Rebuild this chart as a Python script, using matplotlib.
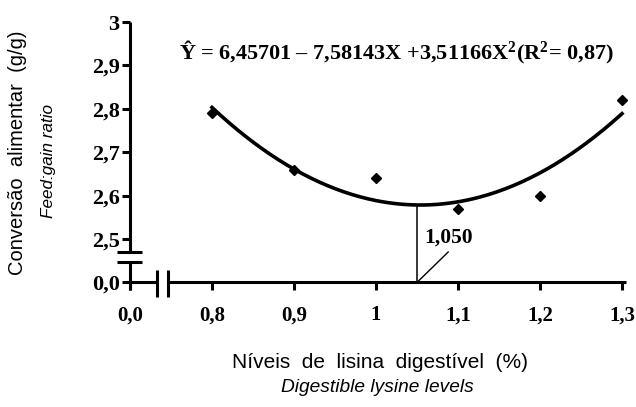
import numpy as np
import matplotlib
matplotlib.use("Agg")
import matplotlib.pyplot as plt

plt.rcParams['mathtext.fontset'] = 'custom'
plt.rcParams['mathtext.rm'] = 'Liberation Serif:bold'
plt.rcParams['mathtext.bf'] = 'Liberation Serif:bold'
plt.rcParams['mathtext.it'] = 'Liberation Serif:bold'

# dados
lisina = [0.8, 0.9, 1.0, 1.1, 1.2, 1.3]
conversao = [2.79, 2.66, 2.64, 2.57, 2.60, 2.82]
x_ticks = [0.7, 0.8, 0.9, 1.0, 1.1, 1.2, 1.3]
x_labels = ["0,0", "0,8", "0,9", "1", "1,1", "1,2", "1,3"]
y_ticks = [2.40, 2.5, 2.6, 2.7, 2.8, 2.9, 3.0]
y_labels = ["0,0", "2,5", "2,6", "2,7", "2,8", "2,9", "3"]
x_otimo = 1.05
y_zero = 2.40   # posicao do "0,0" no eixo y quebrado
x_zero = 0.7    # posicao do "0,0" no eixo x quebrado

fig = plt.figure(figsize=(6.36, 4.07), dpi=100)
ax = fig.add_axes([0.2044, 0.3061, 0.7865, 0.6504])
ax.set_xlim(x_zero, 1.31)
ax.set_ylim(y_zero, 3.01)

for s in ax.spines.values():
    s.set_visible(False)

# eixos com quebra
k = dict(color="black", lw=2.2, clip_on=False, solid_capstyle="butt")
ax.plot([x_zero, x_zero], [y_zero - 0.018, 2.447], **k)
ax.plot([x_zero, x_zero], [2.470, 3.0], **k)
ax.plot([x_zero - 0.0155, x_zero + 0.015], [2.447, 2.447], **k)
ax.plot([x_zero - 0.0155, x_zero + 0.015], [2.470, 2.470], **k)
ax.plot([x_zero, 0.733], [y_zero, y_zero], **k)
ax.plot([0.746, 1.305], [y_zero, y_zero], **k)
ax.plot([0.733, 0.733], [2.3654, 2.4276], **k)
ax.plot([0.746, 0.746], [2.3654, 2.4276], **k)

ax.set_xticks(x_ticks)
ax.set_xticklabels(x_labels)
ax.set_yticks(y_ticks)
ax.set_yticklabels(y_labels)
ax.tick_params(axis="x", length=5.5, width=2.2, pad=11, labelsize=15)
ax.tick_params(axis="y", length=5.5, width=2.2, pad=2, labelsize=16)
for t in ax.get_xticklabels() + ax.get_yticklabels():
    t.set_fontfamily("Liberation Serif")
    t.set_fontweight("bold")

# curva ajustada (quadratica)
coef = np.polyfit(lisina, conversao, 2)
xs = np.linspace(min(lisina), max(lisina), 200)
ax.plot(xs, np.polyval(coef, xs), color="black", lw=2.6)
ax.plot(lisina, conversao, "D", color="black", markersize=5.5)

y_min = np.polyval(coef, x_otimo)
ax.plot([x_otimo, x_otimo], [y_zero, y_min], color="black", lw=1.1)
ax.plot([x_otimo, 1.088], [y_zero, 2.47], color="black", lw=1.0)
ax.text(1.0585, 2.504, "1,050", fontfamily="Liberation Serif", fontweight="bold",
        fontsize=15.5, va="center", ha="left")

ax.text(0.760, 2.930, r"Ŷ = 6,45701 – 7,58143X +3,51166X$^{2}$(R$^{2}$= 0,87)",
        fontfamily="Liberation Serif", fontweight="bold", fontsize=16,
        va="center", ha="left")

fig.text(18 / 636, 1 - 153 / 407, "Conversão  alimentar  (g/g)", rotation=90,
         fontfamily="Liberation Sans", fontsize=14.5, ha="center", va="center")
fig.text(48 / 636, 1 - 161 / 407, "Feed:gain ratio", rotation=90,
         fontfamily="Liberation Sans", style="italic", fontsize=12.3,
         ha="center", va="center")
fig.text(380 / 636, 1 - 363 / 407, "Níveis  de  lisina  digestível  (%)",
         fontfamily="Liberation Sans", fontsize=15, ha="center", va="center")
fig.text(377 / 636, 1 - 388 / 407, "Digestible lysine levels",
         fontfamily="Liberation Sans", style="italic", fontsize=13.8,
         ha="center", va="center")

fig.savefig("out.png", dpi=100)
